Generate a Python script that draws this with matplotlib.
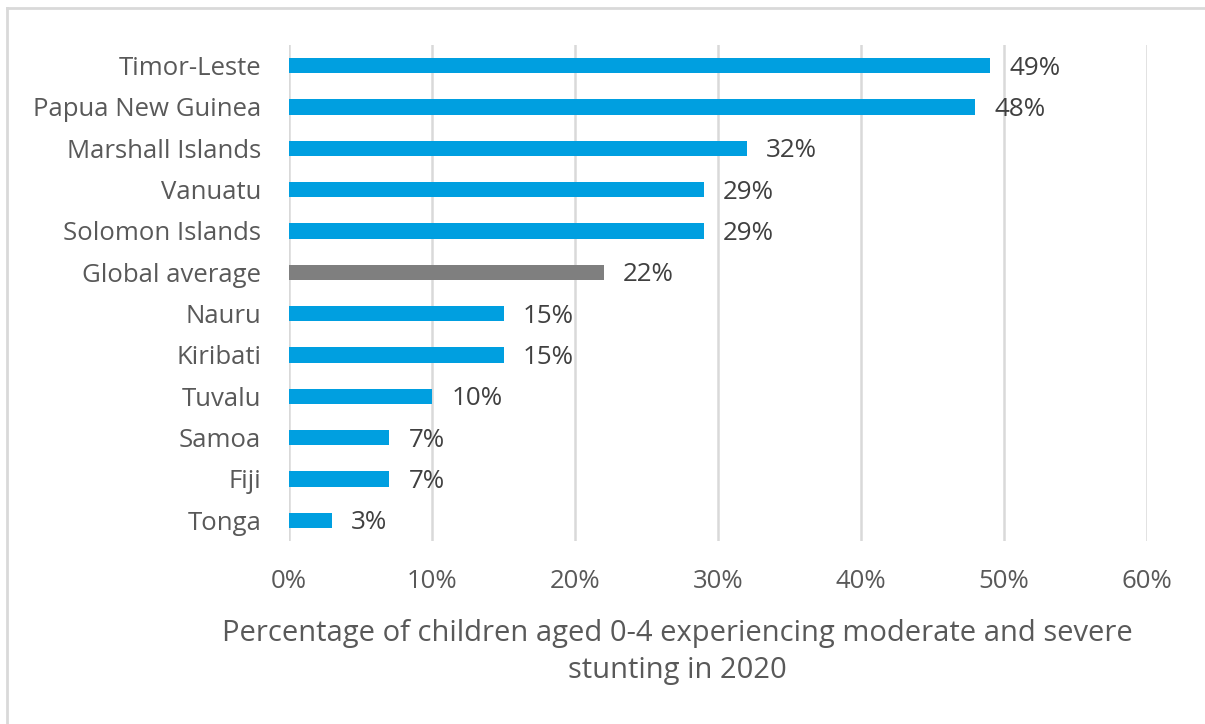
import matplotlib
matplotlib.use("Agg")
import matplotlib.pyplot as plt
from matplotlib.lines import Line2D

countries = ["Timor-Leste", "Papua New Guinea", "Marshall Islands", "Vanuatu",
             "Solomon Islands", "Global average", "Nauru", "Kiribati", "Tuvalu",
             "Samoa", "Fiji", "Tonga"]
values = [49, 48, 32, 29, 29, 22, 15, 15, 10, 7, 7, 3]
xticks = [0, 10, 20, 30, 40, 50, 60]

blue = "#009FE0"
grey = "#7F7F7F"
text_col = "#595959"
label_col = "#404040"

plt.rcParams["font.family"] = ["Open Sans", "DejaVu Sans"]

fig = plt.figure(figsize=(12.05, 7.24), dpi=100)
ax = fig.add_axes([289 / 1205, 1 - 541 / 724, (1147 - 289) / 1205, (541 - 45) / 724])

ypos = list(range(len(countries)))
colors = [grey if c == "Global average" else blue for c in countries]
ax.barh(ypos, values, height=0.37, color=colors, zorder=2)

for y, v in zip(ypos, values):
    ax.text(v + 1.35, y + 0.06, f"{v}%", va="center", ha="left", fontsize=18.7, color=label_col)

ax.set_xlim(0, 60)
ax.set_ylim(len(countries) - 0.5, -0.5)
ax.set_yticks(ypos)
ax.set_yticklabels(countries, fontsize=18.5, color=text_col)
ax.set_xticks(xticks)
ax.set_xticklabels([f"{t}%" for t in xticks], fontsize=18.5, color=text_col)
ax.tick_params(length=0, axis="y", pad=20)
ax.tick_params(length=0, axis="x", pad=20)
ax.grid(axis="x", color="#D9D9D9", linewidth=1.8, zorder=0)
for s in ax.spines.values():
    s.set_visible(False)

fig.text(677 / 1205, 1 - 652 / 724,
         "Percentage of children aged 0-4 experiencing moderate and severe\nstunting in 2020",
         ha="center", va="center", fontsize=21, color=text_col, linespacing=1.32)

# chart frame (top and left edges visible)
fig.add_artist(Line2D([7 / 1205, 1], [1 - 8 / 724, 1 - 8 / 724], color="#D9D9D9", linewidth=2,
                      transform=fig.transFigure))
fig.add_artist(Line2D([7 / 1205, 7 / 1205], [0, 1 - 8 / 724], color="#D9D9D9", linewidth=2,
                      transform=fig.transFigure))

fig.savefig("out.png", dpi=100)
